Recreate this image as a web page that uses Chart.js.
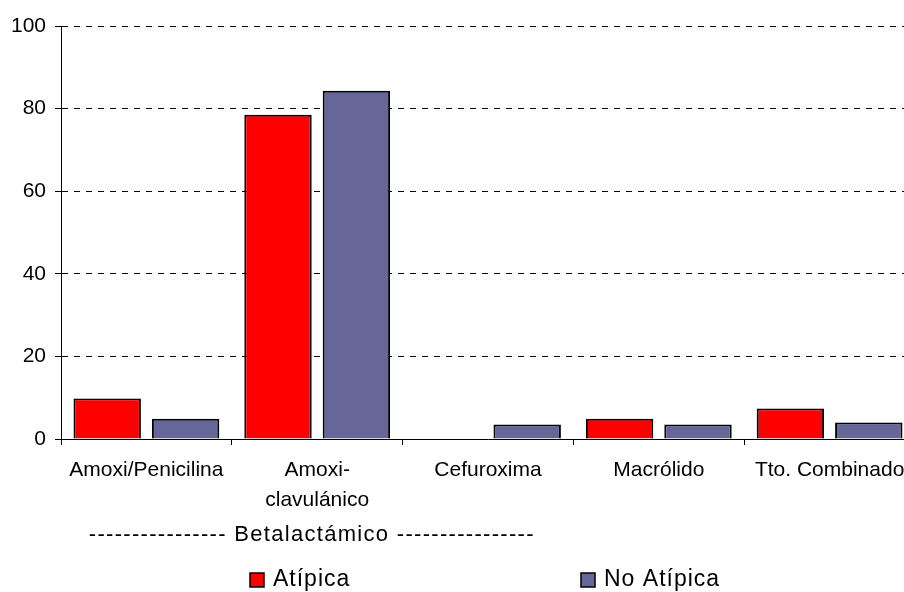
<!DOCTYPE html>
<html>
<head>
<meta charset="utf-8">
<script src="https://cdn.jsdelivr.net/npm/chart.js@4"></script>
<style>
  html, body { margin: 0; padding: 0; background: #fff; overflow: hidden; width: 904px; height: 592px; }
  #wrap { position: absolute; left: 0; top: 0; width: 916px; height: 592px; }
</style>
</head>
<body>
<div id="wrap"><canvas id="c" width="916" height="592"></canvas></div>
<script>
const categories = ["Amoxi/Penicilina", ["Amoxi-", "clavulánico"], "Cefuroxima", "Macrólido", "Tto. Combinado"];
const atipica = [9.8, 78.5, 0, 4.9, 7.4];
const noAtipica = [4.9, 84.3, 3.5, 3.5, 4.0];
const seriesNames = ["Atípica", "No Atípica"];
const groupLabel = "---------------- Betalactámico ----------------";
const yTicks = [0, 20, 40, 60, 80, 100];

const FONT = "'Liberation Sans', Arial, sans-serif";

const extrasPlugin = {
  id: 'extras',
  afterDraw(chart) {
    const ctx = chart.ctx;
    const x = chart.scales.x;
    ctx.save();
    // group label
    ctx.fillStyle = '#000';
    ctx.font = "22px " + FONT;
    if ('letterSpacing' in ctx) ctx.letterSpacing = '1.3px';
    ctx.textAlign = 'center';
    ctx.textBaseline = 'middle';
    const gx = (x.getPixelForValue(0) + x.getPixelForValue(1)) / 2 + 80;
    ctx.fillText(groupLabel, gx, 535);
    // legend
    const items = [{ x: 250 }, { x: 581 }];
    ctx.font = "23px " + FONT;
    if ('letterSpacing' in ctx) ctx.letterSpacing = '1px';
    ctx.textAlign = 'left';
    chart.data.datasets.forEach((ds, i) => {
      const bx = items[i].x, by = 573;
      ctx.fillStyle = ds.backgroundColor;
      ctx.fillRect(bx, by, 14, 14);
      ctx.strokeStyle = '#000';
      ctx.lineWidth = 1.5;
      ctx.strokeRect(bx, by, 14, 14);
      ctx.fillStyle = '#000';
      ctx.fillText(ds.label, bx + 23, 580);
    });
    ctx.restore();
  }
};

new Chart(document.getElementById('c'), {
  type: 'bar',
  data: {
    labels: categories,
    datasets: [
      { label: seriesNames[0], data: atipica, backgroundColor: '#FF0000', borderColor: '#000', borderWidth: 2 },
      { label: seriesNames[1], data: noAtipica, backgroundColor: '#666699', borderColor: '#000', borderWidth: 2 }
    ]
  },
  options: {
    responsive: false,
    animation: false,
    devicePixelRatio: 1,
    categoryPercentage: 0.918,
    barPercentage: 0.86,
    layout: { padding: { top: 26, left: 0, right: 1, bottom: 0 } },
    plugins: { legend: { display: false }, tooltip: { enabled: false } },
    scales: {
      x: {
        grid: { offset: true, drawOnChartArea: false, drawTicks: true, tickLength: 6, color: '#000', lineWidth: 1 },
        border: { color: '#000', width: 1 },
        ticks: { color: '#000', font: { family: FONT, size: 21, lineHeight: 1.4 }, padding: 11, maxRotation: 0, autoSkip: false },
        afterFit(scale) { scale.height = 153; }
      },
      y: {
        min: 0, max: 100,
        afterBuildTicks(scale) { scale.ticks = yTicks.map(v => ({ value: v })); },
        grid: { color: '#000', lineWidth: 1, tickLength: 6, tickBorderDash: [], drawTicks: true },
        border: { color: '#000', width: 1, dash: [6, 6] },
        ticks: { color: '#000', font: { family: FONT, size: 21 }, padding: 9 },
        afterFit(scale) { scale.width = 61; }
      }
    }
  },
  plugins: [extrasPlugin]
});
</script>
</body>
</html>
